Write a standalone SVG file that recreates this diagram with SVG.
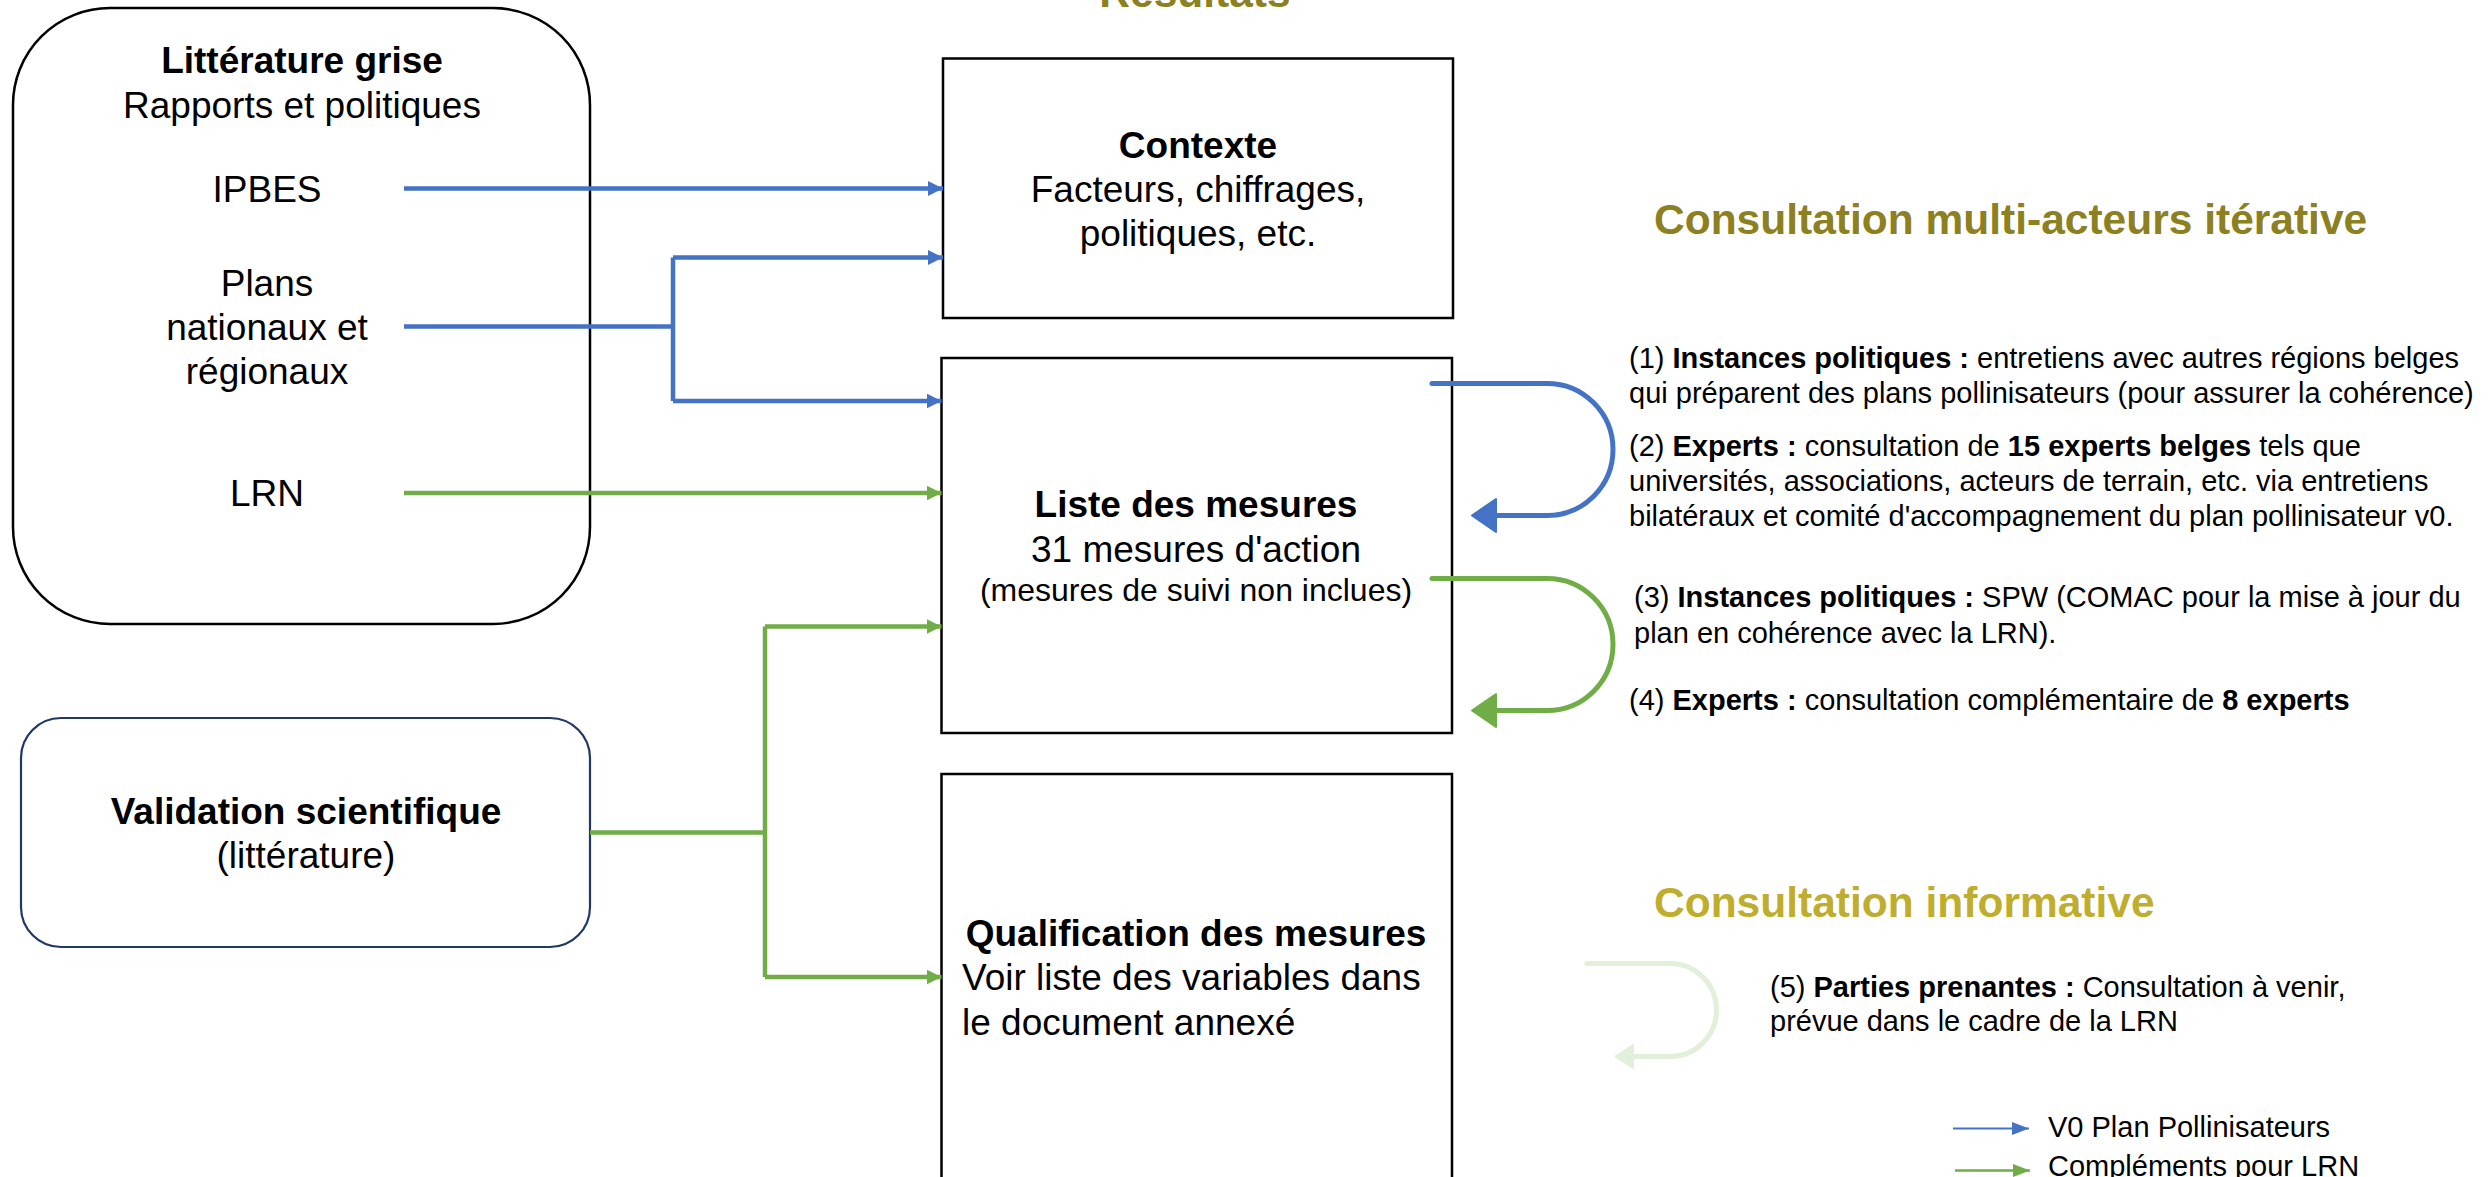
<svg xmlns="http://www.w3.org/2000/svg" width="2488" height="1177" viewBox="0 0 2488 1177">
<style>
text{font-family:"Liberation Sans",Arial,sans-serif;fill:#000}
.t37{font-size:37px}
.b{font-weight:bold}
.mid{text-anchor:middle}
.r29{font-size:29px}
.title{font-size:42.5px;font-weight:bold}
.box{fill:#fff;stroke:#000;stroke-width:2.5}
.blue{stroke:#4472C4;stroke-width:4.5;fill:none}
.green{stroke:#70AD47;stroke-width:4.5;fill:none}
.loop{stroke-width:5;fill:none;stroke-linecap:round}
</style>
<defs>
<marker id="ab" markerUnits="userSpaceOnUse" markerWidth="16" markerHeight="16" refX="15" refY="8" orient="auto"><path d="M0,0.5 L15,8 L0,15.5 Z" fill="#4472C4"/></marker>
<marker id="ag" markerUnits="userSpaceOnUse" markerWidth="16" markerHeight="16" refX="15" refY="8" orient="auto"><path d="M0,0.5 L15,8 L0,15.5 Z" fill="#70AD47"/></marker>
<marker id="lb" markerUnits="userSpaceOnUse" markerWidth="18" markerHeight="14" refX="17" refY="7" orient="auto"><path d="M0,0.5 L17,7 L0,13.5 Z" fill="#4472C4"/></marker>
<marker id="lg" markerUnits="userSpaceOnUse" markerWidth="18" markerHeight="14" refX="17" refY="7" orient="auto"><path d="M0,0.5 L17,7 L0,13.5 Z" fill="#70AD47"/></marker>
</defs>
<rect width="2488" height="1177" fill="#fff"/>

<g id="titre-resultats"><text class="title mid" x="1195" y="7" fill="#8C8020" style="fill:#8C8020">Résultats</text></g>

<g id="litterature-grise">
<rect x="13" y="8" width="577" height="616" rx="97" ry="97" class="box"/>
<text class="t37 b mid" x="302" y="73">Littérature grise</text>
<text class="t37 mid" x="302" y="118">Rapports et politiques</text>
<text class="t37 mid" x="267" y="202">IPBES</text>
<text class="t37 mid" x="267" y="296">Plans</text>
<text class="t37 mid" x="267" y="340">nationaux et</text>
<text class="t37 mid" x="267" y="384">régionaux</text>
<text class="t37 mid" x="267" y="506">LRN</text>
</g>

<g id="validation">
<rect x="21" y="718" width="569" height="229" rx="40" ry="40" fill="#fff" stroke="#1F3864" stroke-width="2.2"/>
<text class="t37 b mid" x="306" y="824">Validation scientifique</text>
<text class="t37 mid" x="306" y="868">(littérature)</text>
</g>

<g id="contexte">
<rect x="943" y="58.5" width="510" height="259.5" class="box"/>
<text class="t37 b mid" x="1198" y="158">Contexte</text>
<text class="t37 mid" x="1198" y="202">Facteurs, chiffrages,</text>
<text class="t37 mid" x="1198" y="246">politiques, etc.</text>
</g>

<g id="liste">
<rect x="941.5" y="358" width="510.5" height="375" class="box"/>
<text class="t37 b mid" x="1196" y="517">Liste des mesures</text>
<text class="t37 mid" x="1196" y="562">31 mesures d'action</text>
<text class="mid" style="font-size:32px" x="1196" y="601">(mesures de suivi non inclues)</text>
</g>

<g id="qualification">
<rect x="941.5" y="774" width="510.5" height="440" class="box"/>
<text class="t37 b mid" x="1196" y="946">Qualification des mesures</text>
<text class="t37" x="962" y="990">Voir liste des variables dans</text>
<text class="t37" x="962" y="1035">le document annexé</text>
</g>

<g id="connecteurs">
<path class="blue" d="M404,188.5 H943" marker-end="url(#ab)"/>
<path class="blue" d="M404,326.5 H673"/>
<path class="blue" d="M673,257.5 V401"/>
<path class="blue" d="M673,257.5 H943" marker-end="url(#ab)"/>
<path class="blue" d="M673,401 H941.5" marker-end="url(#ab)"/>
<path class="green" d="M404,493 H941.5" marker-end="url(#ag)"/>
<path class="green" d="M590,832.5 H765"/>
<path class="green" d="M765,626.5 V977"/>
<path class="green" d="M765,626.5 H941.5" marker-end="url(#ag)"/>
<path class="green" d="M765,977 H941.5" marker-end="url(#ag)"/>

<path class="loop" stroke="#4472C4" d="M1432,383.5 H1547 A66,66 0 0 1 1547,515.5 H1494"/>
<path d="M1472,515.5 L1496,499 L1496,532 Z" fill="#4472C4" stroke="#4472C4" stroke-width="2" stroke-linejoin="round"/>
<path class="loop" stroke="#70AD47" d="M1432,578.5 H1547 A66,66 0 0 1 1547,710.5 H1494"/>
<path d="M1472,710.5 L1496,694 L1496,727 Z" fill="#70AD47" stroke="#70AD47" stroke-width="2" stroke-linejoin="round"/>
<path class="loop" stroke="#E2EFDA" d="M1587,963.5 H1670 A46.5,46.5 0 0 1 1670,1056.5 H1632"/>
<path d="M1615.5,1056.5 L1633,1045 L1633,1068 Z" fill="#E2EFDA" stroke="#E2EFDA" stroke-width="2" stroke-linejoin="round"/>
</g>

<g id="consultation-iterative">
<text class="title" x="1654" y="234" style="fill:#8C8020">Consultation multi-acteurs itérative</text>
<text class="r29" x="1629" y="368">(1) <tspan class="b">Instances politiques :</tspan> entretiens avec autres régions belges</text>
<text class="r29" x="1629" y="402.5">qui préparent des plans pollinisateurs (pour assurer la cohérence)</text>
<text class="r29" x="1629" y="456">(2) <tspan class="b">Experts :</tspan> consultation de <tspan class="b">15 experts belges</tspan> tels que</text>
<text class="r29" x="1629" y="491">universités, associations, acteurs de terrain, etc. via entretiens</text>
<text class="r29" x="1629" y="526">bilatéraux et comité d'accompagnement du plan pollinisateur v0.</text>
<text class="r29" x="1634" y="607">(3) <tspan class="b">Instances politiques :</tspan> SPW (COMAC pour la mise à jour du</text>
<text class="r29" x="1634" y="643">plan en cohérence avec la LRN).</text>
<text class="r29" x="1629" y="709.5">(4) <tspan class="b">Experts :</tspan> consultation complémentaire de <tspan class="b">8 experts</tspan></text>
</g>

<g id="consultation-informative">
<text class="title" x="1654" y="917" style="fill:#BFAE2E">Consultation informative</text>
<text class="r29" x="1770" y="997">(5) <tspan class="b">Parties prenantes :</tspan> Consultation à venir,</text>
<text class="r29" x="1770" y="1031">prévue dans le cadre de la LRN</text>
</g>

<g id="legende">
<path d="M1953,1128.5 H2029" stroke="#4472C4" stroke-width="2" marker-end="url(#lb)"/>
<path d="M1955,1170.5 H2030" stroke="#70AD47" stroke-width="2.5" marker-end="url(#lg)"/>
<text class="r29" x="2048" y="1137">V0 Plan Pollinisateurs</text>
<text class="r29" x="2048" y="1176">Compléments pour LRN</text>
</g>
</svg>
